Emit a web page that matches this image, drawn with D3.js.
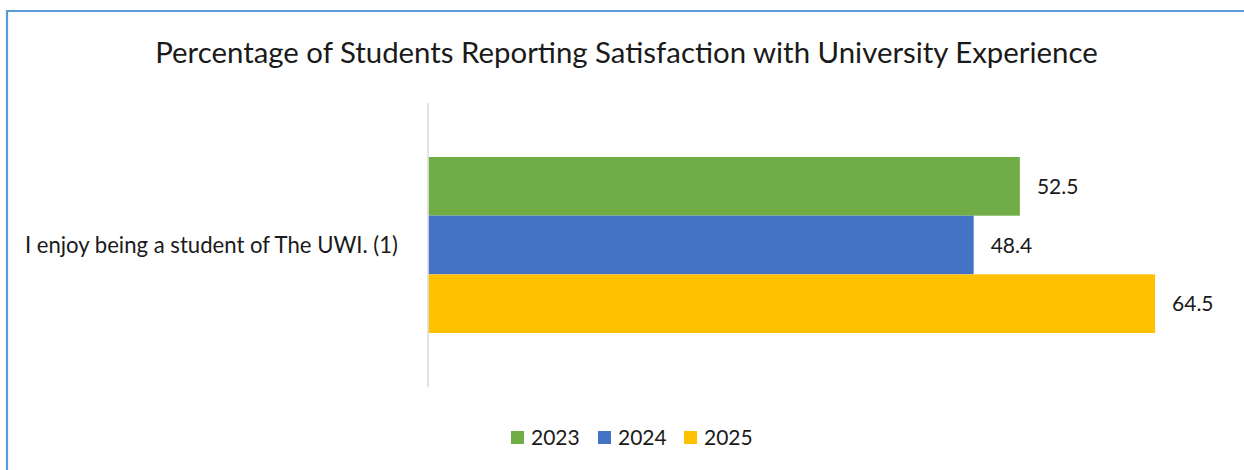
<!DOCTYPE html>
<html>
<head>
<meta charset="utf-8">
<script src="https://cdn.jsdelivr.net/npm/d3@7"></script>
<style>
  html, body { margin: 0; padding: 0; background: #fff; }
  svg { display: block; }
  text { font-family: Lato, "Open Sans", "Noto Sans", sans-serif; fill: #1a1a1a; }
</style>
</head>
<body>
<svg id="chart" width="1244" height="470"></svg>
<script>
// Survey item and yearly results (percent of students agreeing)
const categories = ["I enjoy being a student of The UWI. (1)"];
const years = ["2023", "2024", "2025"];
const values2023 = [52.5];
const values2024 = [48.4];
const values2025 = [64.5];
const seriesValues = [values2023, values2024, values2025];
const colors = ["#70ad47", "#4472c4", "#ffc000"];
const titleText = "Percentage of Students Reporting Satisfaction with University Experience";

const svg = d3.select("#chart");

// Scale a text element's font size so it spans the given width
function fitWidth(sel, width) {
  const node = sel.node();
  const base = parseFloat(sel.attr("font-size"));
  const w = node.getComputedTextLength();
  sel.attr("font-size", (base * width / w).toFixed(2));
  return sel;
}

// Chart frame (top and left edges of the outline)
svg.append("line").attr("x1", 7).attr("x2", 1244).attr("y1", 11).attr("y2", 11)
  .attr("stroke", "#5b9bd5").attr("stroke-width", 2.2);
svg.append("line").attr("x1", 7).attr("x2", 7).attr("y1", 10).attr("y2", 470)
  .attr("stroke", "#5b9bd5").attr("stroke-width", 2.2);

// Title
fitWidth(svg.append("text")
  .attr("x", 626.5).attr("y", 63)
  .attr("text-anchor", "middle")
  .attr("font-size", 26)
  .text(titleText), 943);

// Scales
const x = d3.scaleLinear().domain([0, 70]).range([428.5, 1217]);
const yCat = d3.scaleBand().domain(categories).range([103, 387])
  .paddingInner(0).paddingOuter(0.3068);
const ySer = d3.scaleBand().domain(years).range([0, yCat.bandwidth()]).padding(0);

// Bars
const rows = categories.flatMap((c, i) => years.map((yr, j) => ({
  cat: c, year: yr, value: seriesValues[j][i], color: colors[j]
})));

svg.append("g").selectAll("rect").data(rows).join("rect")
  .attr("x", x(0))
  .attr("y", d => yCat(d.cat) + ySer(d.year))
  .attr("width", d => x(d.value) - x(0))
  .attr("height", ySer.bandwidth())
  .attr("fill", d => d.color);

// Value labels
const valueLabels = svg.append("g").selectAll("text").data(rows).join("text")
  .attr("x", d => x(d.value) + 17)
  .attr("y", d => yCat(d.cat) + ySer(d.year) + ySer.bandwidth() / 2 + 7.5)
  .attr("font-size", 19)
  .text(d => d.value.toFixed(1));
fitWidth(d3.select(valueLabels.nodes()[0]), 41.5);
const labelSize = d3.select(valueLabels.nodes()[0]).attr("font-size");
valueLabels.attr("font-size", labelSize);

// Category axis line
svg.append("line")
  .attr("x1", x(0) - 0.5).attr("x2", x(0) - 0.5)
  .attr("y1", yCat.range()[0]).attr("y2", yCat.range()[1])
  .attr("stroke", "#d9d9d9").attr("stroke-width", 1.5);

// Category label
const catLabels = svg.append("g").selectAll("text").data(categories).join("text")
  .attr("x", 398)
  .attr("y", d => yCat(d) + yCat.bandwidth() / 2 + 7.5)
  .attr("text-anchor", "end")
  .attr("font-size", 19)
  .text(d => d);
fitWidth(d3.select(catLabels.nodes()[0]), 373);

// Legend
const legendX = [511, 598, 684];
const legend = svg.append("g").selectAll("g").data(years).join("g")
  .attr("transform", (d, i) => `translate(${legendX[i]},431)`);
legend.append("rect").attr("width", 13).attr("height", 13)
  .attr("fill", (d, i) => colors[i]);
legend.append("text")
  .attr("x", 20).attr("y", 14)
  .attr("font-size", labelSize)
  .text(d => d);
</script>
</body>
</html>
